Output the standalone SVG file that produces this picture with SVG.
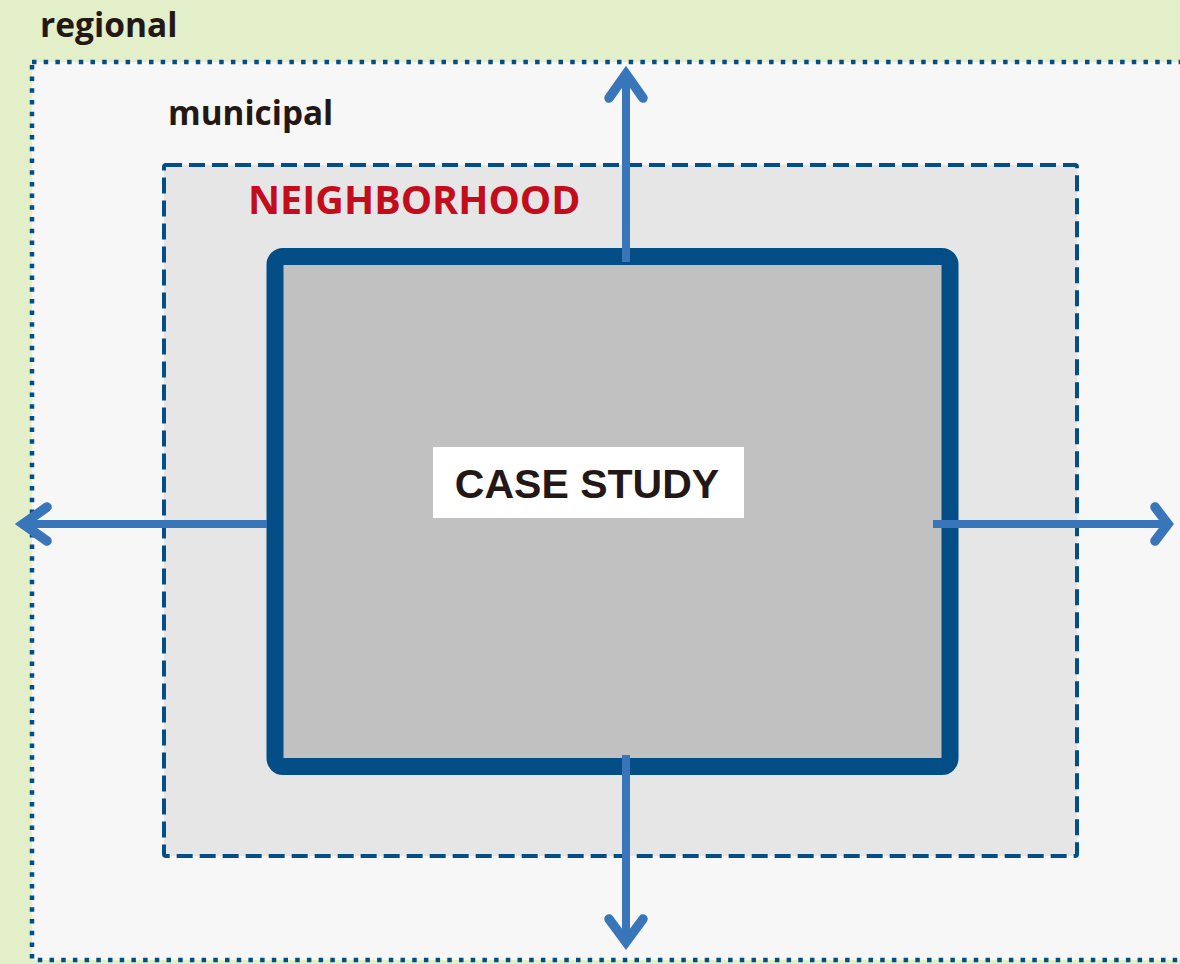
<svg xmlns="http://www.w3.org/2000/svg" width="1180" height="964" viewBox="0 0 1180 964">
<style>
.lbl{font-family:"Open Sans","Noto Sans",sans-serif;font-weight:bold;fill:#231815}
.arrow{fill:none;stroke:#3875b9;stroke-width:8}
.head{fill:none;stroke:#3875b9;stroke-width:9.5;stroke-linecap:round;stroke-linejoin:miter}
</style>
<rect x="0" y="0" width="1180" height="964" fill="#e2efc9"/>
<g id="regional">
<text class="lbl" x="40" y="37" font-size="33.5">regional</text>
</g>
<g id="municipal">
<rect x="32" y="62" width="1200" height="898" fill="#f7f7f7" stroke="#044e87" stroke-width="4.5" stroke-dasharray="4.5 7.2"/>
<text class="lbl" x="168" y="125" font-size="33.3">municipal</text>
</g>
<g id="neighborhood">
<rect x="164" y="165" width="913" height="691" rx="2" fill="#e6e6e6" stroke="#044e87" stroke-width="4" stroke-dasharray="16 7"/>
<text x="248" y="214" font-size="39.5" font-family="Open Sans, Noto Sans, sans-serif" font-weight="bold" fill="#c30d1d">NEIGHBORHOOD</text>
</g>
<g id="case-study">
<rect x="275" y="256.5" width="675" height="510" rx="8" fill="#c0c1c0" stroke="#044e87" stroke-width="17"/>
<rect x="433" y="447" width="311" height="71" fill="#ffffff"/>
<text x="587" y="498" font-size="41" text-anchor="middle" font-family="Liberation Sans, Arial, sans-serif" font-weight="bold" fill="#231815">CASE STUDY</text>
</g>
<g id="connectors">
<line class="arrow" x1="626" y1="262" x2="626" y2="74"/>
<path class="head" d="M609 98 L626 74 L643 98"/>
<line class="arrow" x1="626" y1="755" x2="626" y2="942"/>
<path class="head" d="M609 919 L626 942 L643 919"/>
<line class="arrow" x1="267" y1="524" x2="23" y2="524"/>
<path class="head" d="M47 507 L23 524 L47 541"/>
<line class="arrow" x1="933" y1="524" x2="1166" y2="524"/>
<path class="head" d="M1155 507 L1168 524 L1155 541"/>
</g>
</svg>
